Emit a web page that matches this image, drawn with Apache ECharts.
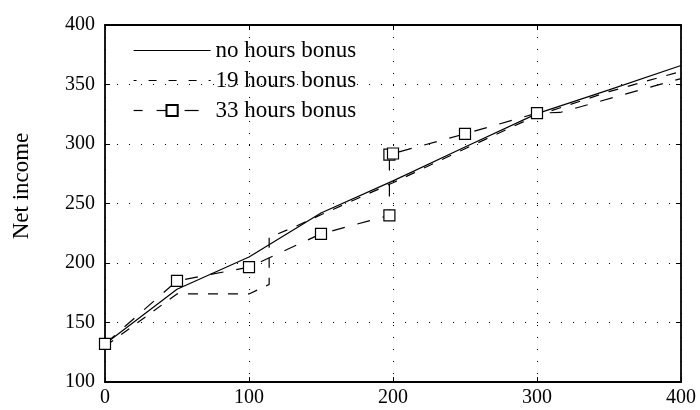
<!DOCTYPE html>
<html><head><meta charset="utf-8">
<script src="https://cdn.jsdelivr.net/npm/echarts@6/dist/echarts.min.js"></script>
<style>html,body{margin:0;padding:0;background:#fff}#c{width:700px;height:410px}</style>
</head><body><div id="c"></div>
<script>
// ---- data ----
const seriesNames = ['no hours bonus', '19 hours bonus', '33 hours bonus'];
const xTicks = [0, 100, 200, 300, 400];
const yTicks = [100, 150, 200, 250, 300, 350, 400];
const yLabelText = 'Net income';

const noBonusX = [0, 50, 100, 150, 200, 250, 300, 350, 400];
const noBonusY = [132, 178, 205, 242, 269, 297.5, 325.5, 345.5, 366];

const bonus19X = [0, 50, 100, 114, 114, 130, 150, 200, 250, 300, 350, 400];
const bonus19Y = [130, 174, 174, 182, 221.5, 229.5, 240.5, 267.5, 296, 324, 344, 361];

const bonus33X = [0, 50, 100, 150, 197.5, 197.5, 200, 250, 300, 316, 400];
const bonus33Y = [132, 185, 196.5, 224.5, 240, 291, 292, 308.5, 326, 326.5, 355];
const bonus33HasMarker = [true, true, true, true, true, true, true, true, true, false, false];

// ---- chart ----
const FONT = '"Liberation Serif", "Times New Roman", serif';
const pairs = (xs, ys) => xs.map((x, i) => [x, ys[i]]);
const hidden = {color: 'rgba(0,0,0,0)', borderColor: 'rgba(0,0,0,0)', borderWidth: 0};

const chart = echarts.init(document.getElementById('c'), null, {renderer: 'canvas'});

const axisCommon = (pos, showLabel, showSplit, margin) => ({
  type: 'value',
  position: pos,
  axisLine: {show: true, onZero: false, lineStyle: {color: '#000', width: 1.8}},
  axisTick: {show: true, inside: true, length: 5, lineStyle: {color: '#000', width: 1}},
  axisLabel: {show: showLabel, color: '#000', fontFamily: FONT, fontSize: 20, margin: margin || 8,
    showMinLabel: true, showMaxLabel: true},
  splitLine: {show: showSplit, lineStyle: {color: '#000', width: 1, type: [1, 11]}}
});

const xMin = xTicks[0], xMax = xTicks[xTicks.length - 1], xInt = xTicks[1] - xTicks[0];
const yMin = yTicks[0], yMax = yTicks[yTicks.length - 1], yInt = yTicks[1] - yTicks[0];

chart.setOption({
  animation: false,
  backgroundColor: '#fff',
  grid: {left: 105, right: 19, top: 25, bottom: 28, containLabel: false},
  xAxis: [
    Object.assign(axisCommon('bottom', true, true, 6), {min: xMin, max: xMax, interval: xInt}),
    Object.assign(axisCommon('top', false, false), {min: xMin, max: xMax, interval: xInt})
  ],
  yAxis: [
    Object.assign(axisCommon('left', true, true, 10), {min: yMin, max: yMax, interval: yInt}),
    Object.assign(axisCommon('right', false, false), {min: yMin, max: yMax, interval: yInt})
  ],
  legend: {
    orient: 'vertical', left: 133, top: 39, padding: 0,
    itemWidth: 77, itemHeight: 14, itemGap: 7,
    textStyle: {fontFamily: FONT, fontSize: 23, color: '#000', lineHeight: 23},
    data: [
      {name: seriesNames[0], itemStyle: hidden, lineStyle: {color: '#000', width: 1.2, type: 'solid'}},
      {name: seriesNames[1], itemStyle: hidden, lineStyle: {color: '#000', width: 1.2, type: [8, 12], dashOffset: 5}},
      {name: seriesNames[2], lineStyle: {color: '#000', width: 1.2, type: [14, 14]}}
    ]
  },
  graphic: [{
    type: 'text', x: 22, y: 186, rotation: Math.PI / 2,
    style: {text: yLabelText, fontFamily: FONT, fontSize: 23, fill: '#000', textAlign: 'center', textVerticalAlign: 'middle'}
  }],
  series: [
    {
      name: seriesNames[0], type: 'line', data: pairs(noBonusX, noBonusY),
      symbol: 'none', clip: false, z: 3,
      lineStyle: {color: '#000', width: 1.2, type: 'solid'},
      itemStyle: {color: '#000'}
    },
    {
      name: seriesNames[1], type: 'line', data: pairs(bonus19X, bonus19Y),
      symbol: 'none', clip: false, z: 4,
      lineStyle: {color: '#000', width: 1.2, type: [10, 10]},
      itemStyle: {color: '#000'}
    },
    {
      name: seriesNames[2], type: 'line',
      data: bonus33X.map((x, i) => bonus33HasMarker[i]
        ? {value: [x, bonus33Y[i]]}
        : {value: [x, bonus33Y[i]], symbol: 'none'}),
      symbol: 'rect', symbolSize: 11, showSymbol: true, clip: false, z: 5,
      lineStyle: {color: '#000', width: 1.2, type: [13, 13]},
      itemStyle: {color: '#fff', borderColor: '#000', borderWidth: 1.2}
    }
  ]
});
</script>
</body></html>
